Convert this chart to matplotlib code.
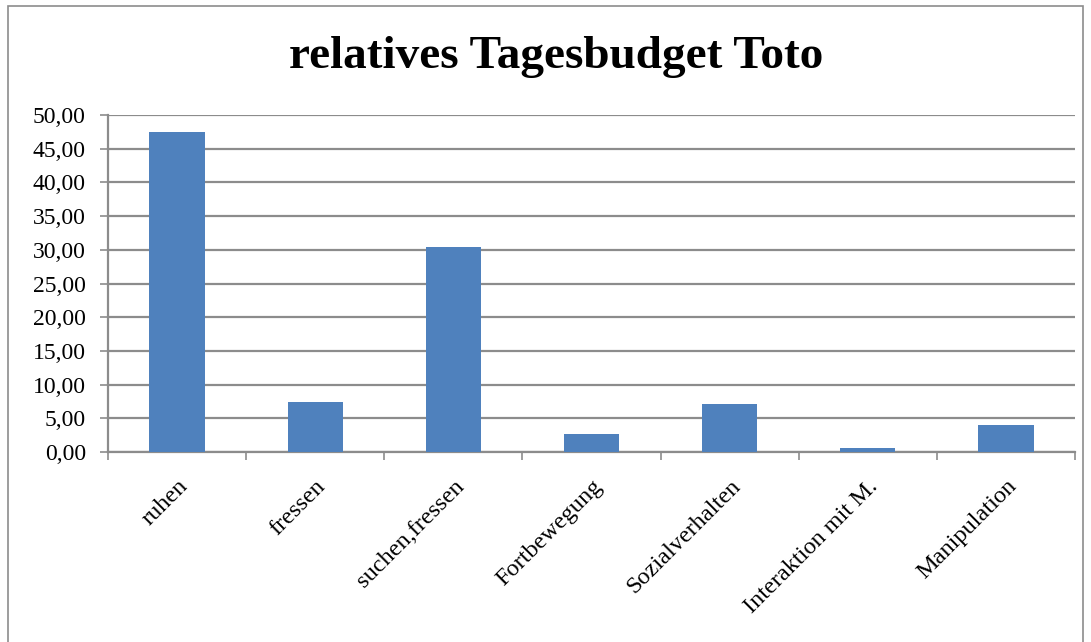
import matplotlib.pyplot as plt
from matplotlib.patches import Rectangle
from matplotlib.ticker import FuncFormatter

categories = ["ruhen", "fressen", "suchen,fressen", "Fortbewegung",
              "Sozialverhalten", "Interaktion mit M.", "Manipulation"]
values = [47.5, 7.4, 30.35, 2.7, 7.1, 0.55, 4.05]

plt.rcParams['font.family'] = ['Liberation Serif', 'DejaVu Serif']

fig = plt.figure(figsize=(10.91, 6.42), dpi=100)
ax = fig.add_axes([108 / 1091, 1 - 452 / 642, (1075 - 108) / 1091, (452 - 115) / 642])

# Rahmen um das Diagramm
fig.patches.append(Rectangle((8 / 1091, -0.01), (1083 - 8) / 1091, 1.0, transform=fig.transFigure,
                             fill=False, edgecolor='#8c8c8c', linewidth=1.2))

x = list(range(len(categories)))
ax.bar(x, values, width=0.4, color='#4f81bd', zorder=3)

ax.set_xlim(-0.5, len(categories) - 0.5)
ax.set_ylim(0, 50)
ax.set_yticks(range(0, 51, 5))
ax.yaxis.set_major_formatter(FuncFormatter(lambda v, p: f"{v:.2f}".replace('.', ',')))
ax.grid(axis='y', color='#8c8c8c', linewidth=1.6, zorder=0)

ax.set_xticks(x)
ax.set_xticklabels(categories, rotation=45, ha='right', rotation_mode='anchor', fontsize=17.5)
ax.tick_params(axis='x', length=0, pad=17)
ax.set_xticks([i - 0.5 for i in range(len(categories) + 1)], minor=True)
ax.tick_params(axis='x', which='minor', length=5.5, width=1.2, color='#8c8c8c', direction='out')
ax.tick_params(axis='y', labelsize=17, length=6, width=1.2, color='#8c8c8c', direction='out', pad=10)

for s in ['top', 'right']:
    ax.spines[s].set_visible(False)
for s in ['left', 'bottom']:
    ax.spines[s].set_color('#8c8c8c')
    ax.spines[s].set_linewidth(1.6)

fig.text(556 / 1091, 1 - 57 / 642, "relatives Tagesbudget Toto", ha='center', va='center',
         fontsize=34, fontweight='bold')

fig.savefig("out.png", dpi=100)
